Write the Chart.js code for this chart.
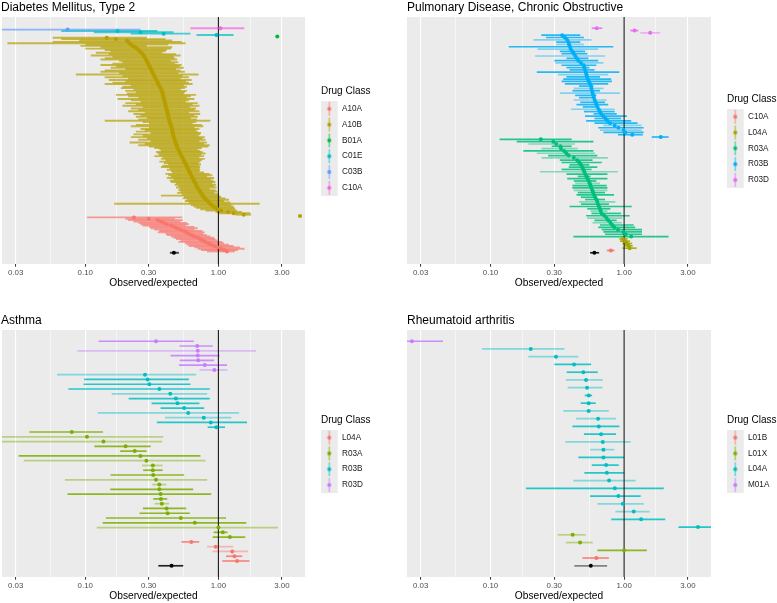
<!DOCTYPE html>
<html>
<head>
<meta charset="utf-8">
<script src="https://cdn.jsdelivr.net/npm/chart.js@4.4.1/dist/chart.umd.min.js"></script>
<style>
  html, body { margin: 0; padding: 0; background: #fff; }
  #page { position: relative; width: 777px; height: 603px; overflow: hidden; }
  canvas { position: absolute; }
</style>
</head>
<body>
<div id="page">
  <canvas id="diabetes" width="390" height="300" style="left:0;top:0"></canvas>
  <canvas id="copd" width="387" height="300" style="left:390px;top:0"></canvas>
  <canvas id="asthma" width="390" height="290" style="left:0;top:313px"></canvas>
  <canvas id="ra" width="387" height="290" style="left:390px;top:313px"></canvas>
</div>
<script>
// rows are [estimate, lower, upper] or [estimate, lower, upper, 1] when the bar is drawn faint
// each class lists its rows from top to bottom

// x axis (observed/expected, log scale)
const X_MIN = 0.0237;
const X_MAX = 4.47;
const MAJOR_TICKS = [0.03, 0.1, 0.3, 1, 3];
const MINOR_TICKS = [0.0548, 0.173, 0.548, 1.73];
const REF_LINE = 1;

// ---- Diabetes Mellitus, Type 2
const dmClasses = ['A10A', 'A10B', 'B01A', 'C01E', 'C03B', 'C10A'];
const dmC10A = [[1.035, 0.617, 1.565]];
const dmC03B = [[0.0737, 0.02, 0.26]];
const dmC01E = [[0.175, 0.066, 0.349], [0.26, 0.116, 0.46], [0.388, 0.219, 0.617], [0.966, 0.685, 1.30]];
const dmB01A = [[2.77, 2.70, 2.85]];
const dmA10B = [
  [0.145,0.057,0.29],[0.17,0.066,0.40],[0.205,0.09,0.45],[0.21,0.057,0.53],[0.215,0.026,0.566],
  [0.22,0.10,0.42],[0.228,0.092,0.29],[0.237,0.13,0.45],[0.245,0.10,0.44],[0.251,0.14,0.41],
  [0.257,0.155,0.40],[0.263,0.12,0.38],[0.269,0.15,0.48],[0.274,0.11,0.52],[0.278,0.16,0.46],
  [0.282,0.14,0.47],[0.286,0.13,0.49],[0.29,0.18,0.44],[0.293,0.19,0.50],[0.297,0.16,0.47],
  [0.30,0.13,0.53],[0.304,0.17,0.51],[0.307,0.155,0.55],[0.311,0.20,0.48],[0.315,0.14,0.52],
  [0.319,0.13,0.56],[0.322,0.18,0.50],[0.326,0.085,0.71],[0.33,0.19,0.54],[0.334,0.14,0.60],
  [0.338,0.21,0.52],[0.342,0.15,0.63],[0.346,0.20,0.57],[0.35,0.16,0.60],[0.354,0.14,0.64],
  [0.358,0.22,0.55],[0.362,0.19,0.58],[0.367,0.185,0.56],[0.372,0.23,0.52],[0.376,0.20,0.58],
  [0.379,0.24,0.56],[0.381,0.205,0.55],[0.383,0.17,0.68],[0.386,0.21,0.62],[0.388,0.25,0.58],
  [0.39,0.175,0.66],[0.392,0.22,0.60],[0.394,0.26,0.57],[0.397,0.20,0.70],[0.399,0.24,0.64],
  [0.402,0.19,0.72],[0.404,0.27,0.61],[0.407,0.22,0.68],[0.41,0.25,0.66],[0.412,0.21,0.72],
  [0.414,0.28,0.60],[0.417,0.23,0.73],[0.419,0.26,0.66],[0.422,0.24,0.70],[0.424,0.29,0.62],
  [0.427,0.25,0.69],[0.429,0.14,0.87],[0.431,0.27,0.68],[0.435,0.30,0.64],[0.439,0.24,0.75],
  [0.443,0.22,0.77],[0.445,0.30,0.66],[0.448,0.26,0.72],[0.45,0.28,0.68],[0.452,0.24,0.70],
  [0.455,0.31,0.74],[0.457,0.23,0.73],[0.46,0.27,0.71],[0.462,0.22,0.79],[0.466,0.29,0.76],
  [0.47,0.25,0.80],[0.474,0.31,0.72],[0.478,0.215,0.82],[0.482,0.28,0.78],[0.486,0.25,0.86],
  [0.489,0.30,0.84],[0.493,0.33,0.75],[0.499,0.36,0.70],[0.505,0.37,0.73],[0.511,0.34,0.76],
  [0.517,0.35,0.80],[0.523,0.36,0.74],[0.529,0.33,0.78],[0.536,0.38,0.72],[0.543,0.37,0.79],
  [0.549,0.40,0.75],[0.556,0.36,0.73],[0.562,0.39,0.71],[0.569,0.42,0.74],[0.576,0.38,0.72],
  [0.582,0.37,0.73],[0.589,0.43,0.72],[0.596,0.41,0.73],[0.603,0.44,0.72],[0.61,0.45,0.78],
  [0.617,0.40,0.86],[0.624,0.42,0.90],[0.631,0.44,0.82],[0.639,0.41,0.93],[0.647,0.46,0.88],
  [0.655,0.43,0.92],[0.663,0.44,0.95],[0.671,0.48,0.90],[0.679,0.47,0.96],[0.687,0.50,0.93],
  [0.695,0.48,0.97],[0.707,0.51,0.86],[0.718,0.50,0.95],[0.73,0.52,0.98],[0.741,0.49,0.93],
  [0.752,0.53,1.00],[0.764,0.37,1.02],[0.775,0.55,1.05],[0.79,0.54,1.13],[0.81,0.58,1.20],
  [0.83,0.56,1.10],[0.85,0.60,1.23],[0.87,0.165,2.04],[0.895,0.62,1.25],[0.92,0.65,1.30],
  [0.95,0.68,1.32],[0.99,0.73,1.34],[1.05,0.80,1.38],[1.18,0.95,1.50],[1.30,0.99,1.74],
  [1.55,1.34,1.76],[4.1,4.0,4.2]
];
const dmA10A = [
  [0.232,0.103,0.535],[0.30,0.20,0.47],[0.35,0.21,0.54],[0.37,0.23,0.52],[0.39,0.25,0.58],
  [0.41,0.26,0.60],[0.44,0.27,0.57],[0.465,0.30,0.66],[0.49,0.31,0.70],[0.52,0.33,0.66],
  [0.55,0.36,0.76],[0.575,0.35,0.79],[0.60,0.40,0.77],[0.63,0.41,0.82],[0.66,0.44,0.87],
  [0.70,0.46,0.93],[0.735,0.48,0.95],[0.765,0.52,0.98],[0.80,0.50,1.07],[0.84,0.56,1.10],
  [0.88,0.58,1.20],[0.93,0.60,1.30],[0.98,0.66,1.45],[1.04,0.70,1.57],[1.10,0.74,1.40],
  [1.16,0.82,1.33]
];
const dmOverall = [0.463, 0.432, 0.505];

// ---- Pulmonary Disease, Chronic Obstructive
const copdClasses = ['C10A', 'L04A', 'R03A', 'R03B', 'R03D'];
const copdR03D = [[0.624,0.573,0.687],[1.195,1.11,1.28],[1.567,1.32,1.86,1]];
const copdR03B = [
  [0.344,0.24,0.47],[0.36,0.26,0.50],[0.374,0.21,0.57,1],[0.382,0.31,0.47],[0.387,0.31,0.50,1],
  [0.393,0.137,0.83],[0.398,0.225,0.64,1],[0.41,0.33,0.51],[0.42,0.34,0.53],[0.431,0.215,0.72,1],
  [0.443,0.37,0.54],[0.454,0.30,0.64],[0.476,0.305,0.70,1],[0.498,0.34,0.62],[0.503,0.37,0.55],
  [0.51,0.39,0.60],[0.516,0.222,0.92],[0.522,0.32,0.76,1],[0.528,0.37,0.66],[0.535,0.35,0.80],
  [0.545,0.34,0.81],[0.555,0.36,0.76],[0.564,0.46,0.59],[0.569,0.42,0.70,1],[0.575,0.41,0.66],
  [0.58,0.33,0.93,1],[0.587,0.43,0.62],[0.595,0.46,0.60],[0.602,0.42,0.74,1],[0.612,0.47,0.72],
  [0.621,0.44,0.76],[0.632,0.49,0.62],[0.645,0.40,0.85,1],[0.658,0.50,0.85],[0.675,0.59,0.88],
  [0.70,0.51,1.05],[0.725,0.60,0.95],[0.75,0.52,1.13],[0.785,0.60,1.26],[0.85,0.70,1.35,1],
  [0.906,0.64,1.40],[0.99,0.66,1.35,1],[1.02,0.70,1.40],[1.15,0.90,1.38],[1.88,1.61,2.15]
];
const copdR03A = [
  [0.238,0.117,0.405],[0.295,0.157,0.589],[0.31,0.192,0.429,1],[0.333,0.287,0.405],[0.337,0.241,0.45,1],
  [0.355,0.176,0.589],[0.37,0.222,0.605,1],[0.385,0.27,0.63],[0.42,0.241,0.755,1],[0.445,0.33,0.58],
  [0.462,0.34,0.68],[0.475,0.39,0.55],[0.487,0.385,0.63],[0.494,0.34,0.57],[0.503,0.234,0.897,1],
  [0.512,0.37,0.75],[0.522,0.45,0.56],[0.533,0.375,0.75],[0.543,0.42,0.62],[0.552,0.43,0.66,1],
  [0.561,0.41,0.74],[0.57,0.41,0.75],[0.578,0.42,0.75,1],[0.586,0.45,0.72],[0.596,0.44,0.84],
  [0.607,0.475,0.62],[0.62,0.51,0.72],[0.63,0.46,0.86,1],[0.638,0.475,0.77],[0.648,0.39,1.14],
  [0.658,0.53,0.79],[0.668,0.56,0.75,1],[0.68,0.57,0.95],[0.71,0.52,1.1],[0.74,0.53,0.97,1],
  [0.76,0.60,0.88],[0.79,0.58,0.96,1],[0.815,0.66,1.18],[0.845,0.64,1.21],[0.90,0.68,1.36],
  [0.988,0.70,1.36],[1.03,0.72,1.36],[1.13,0.417,2.15]
];
const copdL04A = [[0.98,0.92,1.06],[1.02,0.93,1.11],[1.05,0.97,1.15],[1.08,1.00,1.16],[1.10,0.97,1.24]];
const copdC10A = [[0.795,0.742,0.846]];
const copdOverall = [0.599, 0.556, 0.65];

// ---- Asthma
const asClasses = ['L04A', 'R03A', 'R03B', 'R03D'];
const asR03D = [
  [0.34,0.126,0.654],[0.693,0.51,0.906],[0.70,0.0875,1.915,1],[0.70,0.437,1.02],
  [0.705,0.513,0.929],[0.79,0.505,1.16],[0.933,0.72,1.17,1]
];
const asR03B = [
  [0.281,0.0614,0.681,1],[0.294,0.098,0.60],[0.303,0.097,0.617],[0.36,0.0746,0.861],
  [0.435,0.158,0.823,1],[0.479,0.212,0.861],[0.493,0.315,0.72],[0.553,0.368,0.782],
  [0.593,0.124,1.43,1],[0.776,0.397,1.25,1],[0.876,0.345,1.64],[0.966,0.83,1.12]
];
const asR03A = [
  [0.0793,0.038,0.136],[0.103,0.02,0.385,1],[0.137,0.02,0.379,1],[0.201,0.117,0.31],
  [0.235,0.183,0.289],[0.26,0.0316,0.733],[0.288,0.0346,0.80,1],[0.322,0.267,0.381,1],
  [0.322,0.272,0.381],[0.324,0.155,0.553],[0.34,0.0703,0.823,1],[0.36,0.319,0.406,1],
  [0.36,0.154,0.646],[0.368,0.0736,0.882],[0.37,0.324,0.413],[0.376,0.332,0.425,1],
  [0.408,0.271,0.573],[0.415,0.256,0.61],[0.522,0.143,1.14],[0.665,0.135,1.62],
  [1.0,0.122,2.8,1],[1.08,0.92,1.17],[1.22,0.906,1.59]
];
const asL04A = [[0.625,0.528,0.717],[0.955,0.823,1.29,1],[1.27,0.906,1.67,1],[1.32,1.14,1.51],[1.38,1.07,1.71]];
const asOverall = [0.445, 0.354, 0.544];

// ---- Rheumatoid arthritis
const raClasses = ['L01B', 'L01X', 'L04A', 'M01A'];
const raM01A = [[0.0258,0.02,0.0441]];
const raL04A = [
  [0.20,0.0866,0.357,1],[0.309,0.192,0.454,1],[0.422,0.30,0.566],[0.495,0.372,0.635],
  [0.519,0.367,0.692,1],[0.528,0.378,0.688,1],[0.543,0.507,0.576],[0.543,0.473,0.613],
  [0.543,0.35,0.768,1],[0.638,0.437,0.871,1],[0.646,0.41,0.922],[0.672,0.50,0.871],
  [0.692,0.363,1.12,1],[0.70,0.556,0.846,1],[0.70,0.454,1.0],[0.733,0.573,0.912],
  [0.742,0.504,1.0],[0.772,0.417,1.22,1],[0.852,0.184,1.98],[0.906,0.556,1.33],
  [0.978,0.631,1.40,1],[1.18,0.86,1.55,1],[1.34,0.80,2.03],[3.57,2.55,4.6]
];
const raL01X = [[0.412,0.318,0.516,1],[0.468,0.366,0.582,1],[1.0,0.631,1.48]];
const raL01B = [[0.62,0.487,0.768]];
const raOverall = [0.563, 0.424, 0.746, 1];

// ---------------------------------------------------------------------------

const FONT = "'Liberation Sans', Arial, Helvetica, sans-serif";
Chart.defaults.font.family = FONT;

const HUE6 = ['#F8766D', '#B79F00', '#00BA38', '#00BFC4', '#619CFF', '#F564E3'];
const HUE5 = ['#F8766D', '#A3A500', '#00BF7D', '#00B0F6', '#E76BF3'];
const HUE4 = ['#F8766D', '#7CAE00', '#00BFC4', '#C77CFF'];
const FAINT = 0.45;
const LEG_FONT = 8.2, LEG_PAD = 7.6;

function rgba(hex, a) {
  const n = parseInt(hex.slice(1), 16);
  return `rgba(${(n >> 16) & 255},${(n >> 8) & 255},${n & 255},${a})`;
}

// ggplot-like legend key: grey square, vertical range line, dot
function keyImage(color) {
  const c = document.createElement('canvas');
  c.width = 25; c.height = 16;
  const g = c.getContext('2d');
  g.fillStyle = '#EBEBEB';
  g.fillRect(0, 0, 17, 16);
  g.strokeStyle = rgba(color, 0.6);
  g.lineWidth = 1.4;
  g.beginPath(); g.moveTo(8.5, 1); g.lineTo(8.5, 15); g.stroke();
  g.fillStyle = color;
  g.beginPath(); g.arc(8.5, 8, 2, 0, Math.PI * 2); g.fill();
  return c;
}

const panelBg = {
  id: 'panelBg',
  beforeDraw(chart) {
    const {ctx, chartArea: a} = chart;
    ctx.save();
    ctx.fillStyle = '#EBEBEB';
    ctx.fillRect(a.left, a.top, a.right - a.left, a.bottom - a.top);
    ctx.restore();
  }
};

// put the legend beside the panel, centred on it like ggplot does
const placeLegend = {
  id: 'placeLegend',
  afterLayout(chart, args, opts) {
    const lg = chart.legend;
    if (!lg || !opts.count) return;
    const a = chart.chartArea;
    const mid = (a.top + a.bottom) / 2 - 1;
    const top = mid - 13.8 - (opts.count - 1) * (LEG_FONT + LEG_PAD) / 2;
    lg.left = a.right + 16;
    lg.right = lg.left + 70;
    lg.top = top;
    lg.bottom = chart.height;
  }
};

const isMajor = v => MAJOR_TICKS.includes(v);

function buildPanel(p) {
  const datasets = [];
  let row = 0;
  const addRows = (rows, color, label) => {
    const bars = rows.map((r, k) => ({y: row + k, x: [r[1], r[2]], faint: r[3] === 1}));
    const pts = rows.map((r, k) => ({y: row + k, x: r[0]}));
    row += rows.length;
    datasets.push({
      type: 'bar', label, indexAxis: 'y', grouped: false, data: bars,
      categoryPercentage: 1.5, barPercentage: 1, maxBarThickness: p.barMax,
      inflateAmount: 0, borderWidth: 0, order: 2,
      backgroundColor: c => rgba(color, c.raw && c.raw.faint ? FAINT : p.barAlpha)
    });
    datasets.push({
      type: 'scatter', label: label + ' est', data: pts,
      pointRadius: 2, pointHoverRadius: 2, pointBorderWidth: 0,
      pointBackgroundColor: color, order: 0
    });
  };
  // the last class of the legend sits at the top of the panel
  for (let k = p.classes.length - 1; k >= 0; k--) addRows(p.rows[k], p.colors[k], p.classes[k]);
  addRows([p.overall], '#000000', 'Overall');
  const last = row - 1;
  const yMin = -0.05 * last, yMax = 1.05 * last;

  datasets.push({
    type: 'line', label: 'ref', data: [{x: REF_LINE, y: yMin}, {x: REF_LINE, y: yMax}],
    borderColor: '#1a1a1a', borderWidth: 1.1, pointRadius: 0, order: 1
  });

  const canvas = document.getElementById(p.canvas);
  const H = canvas.height;

  new Chart(canvas, {
    type: 'bar',
    data: {datasets},
    options: {
      responsive: false,
      animation: false,
      devicePixelRatio: 1,
      events: [],
      layout: {padding: {left: p.padLeft, right: p.padRight, top: 0, bottom: H - 288.7}},
      scales: {
        x: {
          type: 'logarithmic',
          min: X_MIN, max: X_MAX,
          offset: false,
          beginAtZero: false,
          afterBuildTicks: s => { s.ticks = MAJOR_TICKS.concat(MINOR_TICKS).sort((a, b) => a - b).map(v => ({value: v})); },
          ticks: {
            autoSkip: false, maxRotation: 0, minRotation: 0, padding: 0.9,
            color: '#4D4D4D', font: {size: 7.9},
            callback: v => isMajor(v) ? v.toFixed(2) : ''
          },
          grid: {
            offset: false,
            color: '#FFFFFF',
            lineWidth: c => (c.tick && isMajor(c.tick.value)) ? 1.1 : 0.55,
            drawTicks: true, tickLength: 2.7, tickWidth: 1,
            tickColor: c => (c.tick && isMajor(c.tick.value)) ? '#333333' : 'rgba(0,0,0,0)'
          },
          border: {display: false},
          title: {
            display: true, text: 'Observed/expected', color: '#000',
            font: {size: 10.2, lineHeight: 1.05}, padding: {top: 0, bottom: 0}
          }
        },
        y: {
          type: 'linear', display: false, reverse: true,
          min: yMin, max: yMax, offset: false, beginAtZero: false
        }
      },
      plugins: {
        title: {
          display: true, text: p.title, align: 'start', color: '#000',
          font: {size: 12, weight: 'normal', lineHeight: 1.2},
          padding: {top: 0, bottom: 2.6}
        },
        legend: {
          display: true, position: 'right', align: 'start', maxWidth: 48,
          onClick: null,
          title: {
            display: true, text: 'Drug Class', color: '#000', position: 'start',
            font: {size: 10, lineHeight: 1}, padding: {top: 0, bottom: 0.9}
          },
          labels: {
            usePointStyle: true, pointStyleWidth: 9.3, padding: LEG_PAD,
            color: '#1a1a1a', font: {size: LEG_FONT},
            generateLabels: () => p.classes.map((c, k) => ({
              text: c, pointStyle: keyImage(p.colors[k]), fillStyle: p.colors[k],
              strokeStyle: 'rgba(0,0,0,0)', lineWidth: 0, hidden: false,
              fontColor: '#1a1a1a', datasetIndex: k
            }))
          }
        },
        tooltip: {enabled: false},
        placeLegend: {count: p.classes.length}
      }
    },
    plugins: [panelBg, placeLegend]
  });
}

const panels = [
  {canvas: 'diabetes', title: 'Diabetes Mellitus, Type 2', classes: dmClasses,
   rows: [dmA10A, dmA10B, dmB01A, dmC01E, dmC03B, dmC10A], overall: dmOverall,
   colors: HUE6, padLeft: 1, padRight: 37, barAlpha: 0.7, barMax: 1.9},
  {canvas: 'copd', title: 'Pulmonary Disease, Chronic Obstructive', classes: copdClasses,
   rows: [copdC10A, copdL04A, copdR03A, copdR03B, copdR03D], overall: copdOverall,
   colors: HUE5, padLeft: 17, padRight: 18, barAlpha: 0.85, barMax: 1.7},
  {canvas: 'asthma', title: 'Asthma', classes: asClasses,
   rows: [asL04A, asR03A, asR03B, asR03D], overall: asOverall,
   colors: HUE4, padLeft: 1, padRight: 37, barAlpha: 0.85, barMax: 1.7},
  {canvas: 'ra', title: 'Rheumatoid arthritis', classes: raClasses,
   rows: [raL01B, raL01X, raL04A, raM01A], overall: raOverall,
   colors: HUE4, padLeft: 17, padRight: 18, barAlpha: 0.85, barMax: 1.7}
];

panels.forEach(buildPanel);
</script>
</body>
</html>
